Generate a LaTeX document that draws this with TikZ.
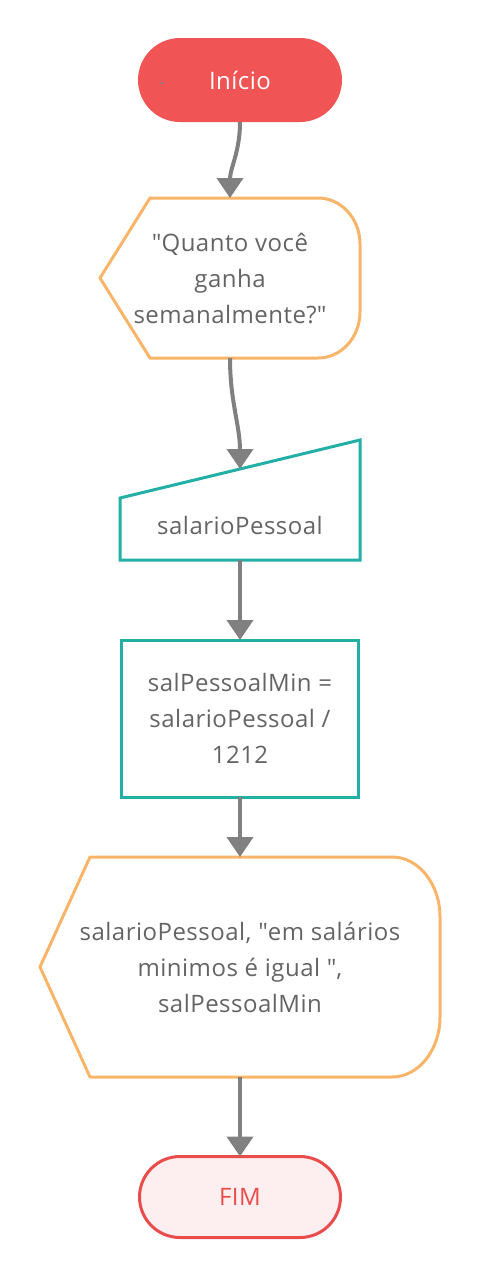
\documentclass[tikz,border=0pt]{standalone}
\usepackage{fontspec}
\setmainfont[LetterSpace=2]{Open Sans}
\usetikzlibrary{positioning, arrows.meta}
\definecolor{StartRed}{RGB}{240,84,84}
\definecolor{IoOrange}{RGB}{248,180,104}
\definecolor{StepTeal}{RGB}{34,176,166}
\definecolor{TextGrey}{RGB}{100,100,100}
\definecolor{FlowGrey}{RGB}{128,128,128}
\definecolor{EndRed}{RGB}{234,76,76}
\definecolor{EndPink}{RGB}{253,239,239}

\begin{document}
\begin{tikzpicture}[
  x=1pt, y=-1pt,
  font=\fontsize{24}{36}\selectfont,
  outer sep=0pt,
  startbox/.style={fill=StartRed, text=white, rounded corners=42pt, minimum width=204pt, minimum height=84pt},
  endbox/.style={draw=EndRed, line width=3pt, fill=EndPink, text=EndRed, rounded corners=40.5pt, minimum width=201pt, minimum height=81pt},
  iobox/.style={text=TextGrey, align=center, inner sep=0pt},
  stepbox/.style={draw=StepTeal, line width=3pt, text=TextGrey, align=center, minimum width=237pt, minimum height=157pt},
  ioline/.style={draw=IoOrange, line width=3pt, line join=round},
  inline/.style={draw=StepTeal, line width=3pt},
  flow/.style={draw=FlowGrey, line width=4pt, -{Triangle[width=26pt, length=20pt]}}
]
\useasboundingbox (0,0) rectangle (480,1280);

\node[startbox] (inicio) at (240,80) {Início};
\fill[FlowGrey] (162,83) circle (1.5pt);

\node[iobox, minimum width=260pt, minimum height=160pt, below=76pt of inicio, xshift=-10pt] (pergunta)
  {\textquotedbl Quanto você\\ganha\\semanalmente?\textquotedbl};
\draw[ioline] ([xshift=50pt]pergunta.north west) -- ([xshift=-42pt]pergunta.north east)
  arc[start angle=90, end angle=0, x radius=42pt, y radius=46pt]
  -- ([yshift=46pt]pergunta.south east)
  arc[start angle=0, end angle=-90, x radius=42pt, y radius=46pt]
  -- ([xshift=50pt]pergunta.south west) -- (pergunta.west) -- cycle;

\node[minimum width=240pt, minimum height=120pt, below=82pt of pergunta, xshift=10pt,
  label={[text=TextGrey, yshift=-25pt]center:salarioPessoal}] (leitura) {};
\draw[inline] (leitura.south west) -- ([yshift=-58pt]leitura.north west) -- (leitura.north east)
  -- (leitura.south east) -- cycle;
\coordinate (leituratopo) at ([yshift=-29pt]leitura.north);

\node[stepbox, below=80pt of leitura] (calculo) {salPessoalMin =\\salarioPessoal /\\1212};

\node[iobox, minimum width=400pt, minimum height=220pt, below=60pt of calculo] (saida)
  {salarioPessoal, \textquotedbl em salários\\minimos é igual \textquotedbl,\\salPessoalMin};
\draw[ioline] ([xshift=50pt]saida.north west) -- ([xshift=-48pt]saida.north east)
  arc[start angle=90, end angle=0, x radius=48pt, y radius=60pt]
  -- ([yshift=60pt]saida.south east)
  arc[start angle=0, end angle=-90, x radius=48pt, y radius=60pt]
  -- ([xshift=50pt]saida.south west) -- (saida.west) -- cycle;

\node[endbox, below=79.5pt of saida] (fim) {FIM};

\draw[flow] (inicio) to[out=-90, in=90] (pergunta);
\draw[flow] (pergunta) to[out=-90, in=90] (leituratopo);
\draw[flow] (leitura) -- (calculo);
\draw[flow] (calculo) -- (saida);
\draw[flow] (saida) -- (fim);
\end{tikzpicture}
\end{document}
